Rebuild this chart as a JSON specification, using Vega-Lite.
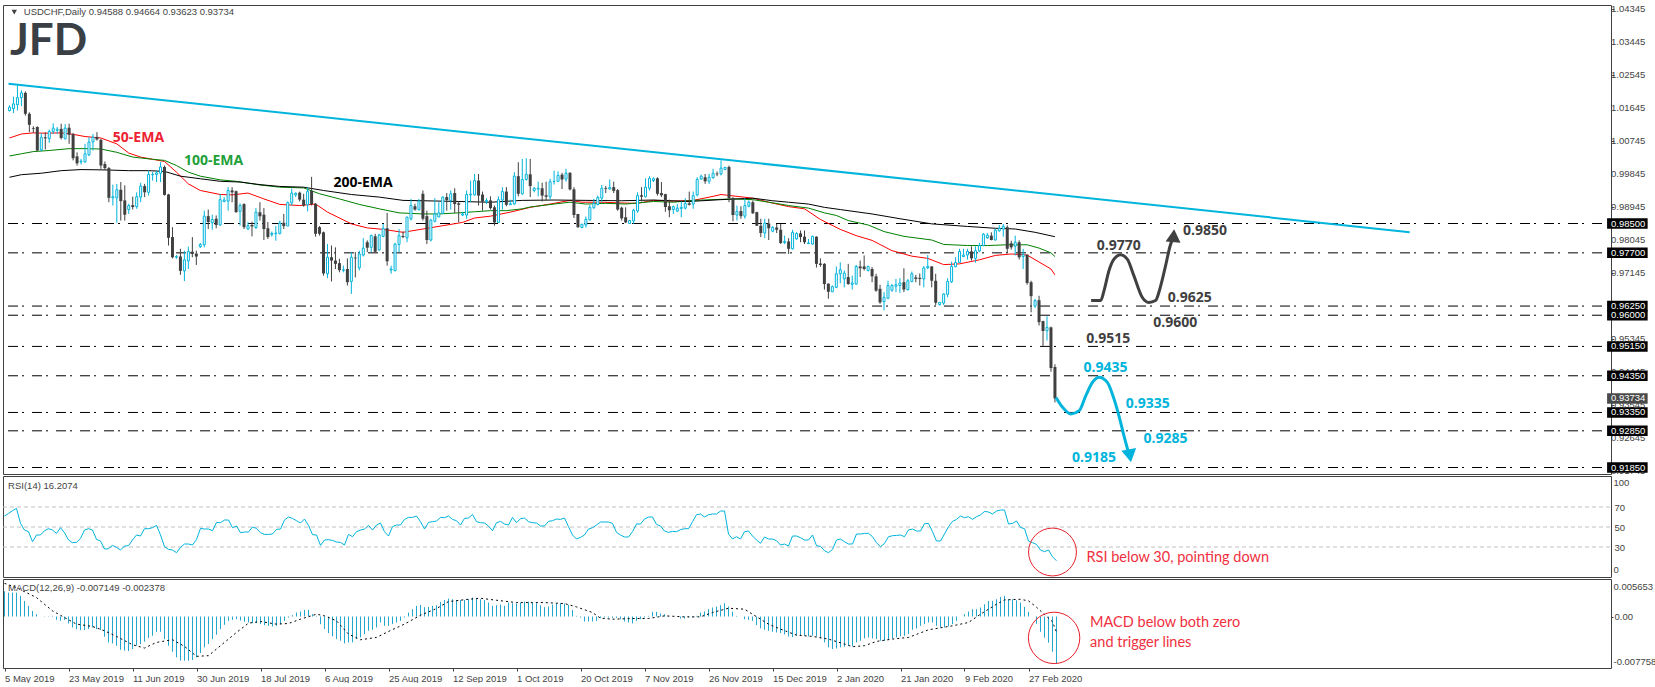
{
"$schema":"https://vega.github.io/schema/vega-lite/v6.json",
"background":"white",
"padding":{"left":2,"top":3,"right":0,"bottom":0},
"spacing":2,
"bounds":"flush",
"config":{"view":{"stroke":"#404040","strokeWidth":1},"axis":{"grid":false,"domain":false,"labelFont":"Liberation Sans","labelFontSize":9.5,"labelColor":"#444444","tickColor":"#444444"},"text":{"font":"Liberation Sans"}},
"datasets":{
"bars":[
{"i":0,"o":1.0158,"h":1.0172,"l":1.0155,"c":1.0167},{"i":1,"o":1.0163,"h":1.0196,"l":1.0151,"c":1.0176},{"i":2,"o":1.0174,"h":1.0228,"l":1.0158,"c":1.0193},{"i":3,"o":1.0193,"h":1.0213,"l":1.0170,"c":1.0206},{"i":4,"o":1.0206,"h":1.0210,"l":1.0144,"c":1.0149},{"i":5,"o":1.0149,"h":1.0153,"l":1.0099,"c":1.0119},{"i":6,"o":1.0110,"h":1.0115,"l":1.0097,"c":1.0108},{"i":7,"o":1.0113,"h":1.0115,"l":1.0047,"c":1.0049},{"i":8,"o":1.0051,"h":1.0096,"l":1.0047,"c":1.0085},{"i":9,"o":1.0085,"h":1.0099,"l":1.0052,"c":1.0082},
{"i":10,"o":1.0081,"h":1.0106,"l":1.0070,"c":1.0101},{"i":11,"o":1.0101,"h":1.0123,"l":1.0094,"c":1.0110},{"i":12,"o":1.0104,"h":1.0113,"l":1.0094,"c":1.0107},{"i":13,"o":1.0108,"h":1.0122,"l":1.0079,"c":1.0083},{"i":14,"o":1.0081,"h":1.0121,"l":1.0079,"c":1.0110},{"i":15,"o":1.0111,"h":1.0122,"l":1.0067,"c":1.0092},{"i":16,"o":1.0093,"h":1.0097,"l":1.0022,"c":1.0028},{"i":17,"o":1.0033,"h":1.0044,"l":1.0008,"c":1.0014},{"i":18,"o":1.0018,"h":1.0026,"l":1.0011,"c":1.0020},{"i":19,"o":1.0018,"h":1.0067,"l":1.0015,"c":1.0040},
{"i":20,"o":1.0037,"h":1.0085,"l":1.0034,"c":1.0072},{"i":21,"o":1.0072,"h":1.0094,"l":1.0049,"c":1.0085},{"i":22,"o":1.0086,"h":1.0099,"l":1.0076,"c":1.0079},{"i":23,"o":1.0078,"h":1.0081,"l":0.9999,"c":1.0008},{"i":24,"o":1.0012,"h":1.0019,"l":0.9996,"c":1.0001},{"i":25,"o":1.0001,"h":1.0004,"l":0.9908,"c":0.9920},{"i":26,"o":0.9920,"h":0.9956,"l":0.9899,"c":0.9923},{"i":27,"o":0.9920,"h":0.9958,"l":0.9852,"c":0.9942},{"i":28,"o":0.9942,"h":0.9963,"l":0.9858,"c":0.9911},{"i":29,"o":0.9913,"h":0.9954,"l":0.9858,"c":0.9874},
{"i":30,"o":0.9888,"h":0.9904,"l":0.9876,"c":0.9899},{"i":31,"o":0.9900,"h":0.9923,"l":0.9888,"c":0.9895},{"i":32,"o":0.9896,"h":0.9935,"l":0.9890,"c":0.9923},{"i":33,"o":0.9922,"h":0.9961,"l":0.9908,"c":0.9952},{"i":34,"o":0.9952,"h":0.9958,"l":0.9922,"c":0.9935},{"i":35,"o":0.9935,"h":0.9994,"l":0.9926,"c":0.9984},{"i":36,"o":0.9983,"h":0.9990,"l":0.9967,"c":0.9984},{"i":37,"o":0.9984,"h":0.9994,"l":0.9963,"c":0.9988},{"i":38,"o":0.9987,"h":1.0017,"l":0.9963,"c":1.0004},{"i":39,"o":1.0004,"h":1.0008,"l":0.9926,"c":0.9928},
{"i":40,"o":0.9929,"h":0.9931,"l":0.9790,"c":0.9811},{"i":41,"o":0.9813,"h":0.9840,"l":0.9755,"c":0.9758},{"i":42,"o":0.9758,"h":0.9764,"l":0.9754,"c":0.9760},{"i":43,"o":0.9760,"h":0.9781,"l":0.9710,"c":0.9721},{"i":44,"o":0.9721,"h":0.9776,"l":0.9693,"c":0.9751},{"i":45,"o":0.9748,"h":0.9787,"l":0.9726,"c":0.9774},{"i":46,"o":0.9773,"h":0.9813,"l":0.9758,"c":0.9767},{"i":47,"o":0.9768,"h":0.9776,"l":0.9737,"c":0.9760},{"i":48,"o":0.9787,"h":0.9797,"l":0.9783,"c":0.9793},{"i":49,"o":0.9792,"h":0.9885,"l":0.9785,"c":0.9870},
{"i":50,"o":0.9870,"h":0.9888,"l":0.9835,"c":0.9854},{"i":51,"o":0.9852,"h":0.9874,"l":0.9833,"c":0.9861},{"i":52,"o":0.9863,"h":0.9872,"l":0.9837,"c":0.9846},{"i":53,"o":0.9846,"h":0.9931,"l":0.9844,"c":0.9915},{"i":54,"o":0.9910,"h":0.9922,"l":0.9908,"c":0.9914},{"i":55,"o":0.9911,"h":0.9949,"l":0.9885,"c":0.9940},{"i":56,"o":0.9940,"h":0.9949,"l":0.9908,"c":0.9935},{"i":57,"o":0.9938,"h":0.9940,"l":0.9879,"c":0.9881},{"i":58,"o":0.9883,"h":0.9905,"l":0.9844,"c":0.9899},{"i":59,"o":0.9903,"h":0.9905,"l":0.9835,"c":0.9840},
{"i":60,"o":0.9835,"h":0.9854,"l":0.9833,"c":0.9844},{"i":61,"o":0.9846,"h":0.9855,"l":0.9815,"c":0.9842},{"i":62,"o":0.9839,"h":0.9892,"l":0.9835,"c":0.9881},{"i":63,"o":0.9881,"h":0.9908,"l":0.9858,"c":0.9870},{"i":64,"o":0.9874,"h":0.9892,"l":0.9805,"c":0.9835},{"i":65,"o":0.9837,"h":0.9854,"l":0.9808,"c":0.9813},{"i":66,"o":0.9820,"h":0.9828,"l":0.9814,"c":0.9823},{"i":67,"o":0.9822,"h":0.9843,"l":0.9803,"c":0.9824},{"i":68,"o":0.9823,"h":0.9858,"l":0.9820,"c":0.9851},{"i":69,"o":0.9852,"h":0.9876,"l":0.9835,"c":0.9843},
{"i":70,"o":0.9843,"h":0.9910,"l":0.9843,"c":0.9907},{"i":71,"o":0.9906,"h":0.9945,"l":0.9899,"c":0.9933},{"i":72,"o":0.9928,"h":0.9935,"l":0.9922,"c":0.9932},{"i":73,"o":0.9934,"h":0.9937,"l":0.9910,"c":0.9915},{"i":74,"o":0.9915,"h":0.9931,"l":0.9896,"c":0.9899},{"i":75,"o":0.9901,"h":0.9949,"l":0.9883,"c":0.9937},{"i":76,"o":0.9939,"h":0.9977,"l":0.9899,"c":0.9903},{"i":77,"o":0.9904,"h":0.9905,"l":0.9814,"c":0.9822},{"i":78,"o":0.9840,"h":0.9843,"l":0.9817,"c":0.9822},{"i":79,"o":0.9826,"h":0.9828,"l":0.9708,"c":0.9714},
{"i":80,"o":0.9713,"h":0.9794,"l":0.9701,"c":0.9758},{"i":81,"o":0.9758,"h":0.9790,"l":0.9692,"c":0.9749},{"i":82,"o":0.9749,"h":0.9785,"l":0.9726,"c":0.9740},{"i":83,"o":0.9742,"h":0.9754,"l":0.9717,"c":0.9723},{"i":84,"o":0.9722,"h":0.9735,"l":0.9717,"c":0.9724},{"i":85,"o":0.9726,"h":0.9755,"l":0.9681,"c":0.9690},{"i":86,"o":0.9692,"h":0.9772,"l":0.9658,"c":0.9758},{"i":87,"o":0.9757,"h":0.9772,"l":0.9703,"c":0.9755},{"i":88,"o":0.9729,"h":0.9776,"l":0.9722,"c":0.9767},{"i":89,"o":0.9764,"h":0.9810,"l":0.9760,"c":0.9783},
{"i":90,"o":0.9799,"h":0.9804,"l":0.9772,"c":0.9784},{"i":91,"o":0.9785,"h":0.9820,"l":0.9772,"c":0.9817},{"i":92,"o":0.9815,"h":0.9822,"l":0.9772,"c":0.9773},{"i":93,"o":0.9778,"h":0.9822,"l":0.9776,"c":0.9819},{"i":94,"o":0.9815,"h":0.9849,"l":0.9813,"c":0.9837},{"i":95,"o":0.9837,"h":0.9879,"l":0.9735,"c":0.9747},{"i":96,"o":0.9723,"h":0.9735,"l":0.9713,"c":0.9726},{"i":97,"o":0.9722,"h":0.9797,"l":0.9719,"c":0.9794},{"i":98,"o":0.9793,"h":0.9835,"l":0.9772,"c":0.9817},{"i":99,"o":0.9816,"h":0.9828,"l":0.9810,"c":0.9813},
{"i":100,"o":0.9811,"h":0.9869,"l":0.9799,"c":0.9867},{"i":101,"o":0.9863,"h":0.9917,"l":0.9858,"c":0.9899},{"i":102,"o":0.9897,"h":0.9904,"l":0.9885,"c":0.9888},{"i":103,"o":0.9888,"h":0.9917,"l":0.9885,"c":0.9911},{"i":104,"o":0.9931,"h":0.9940,"l":0.9858,"c":0.9863},{"i":105,"o":0.9870,"h":0.9885,"l":0.9794,"c":0.9805},{"i":106,"o":0.9805,"h":0.9863,"l":0.9801,"c":0.9859},{"i":107,"o":0.9856,"h":0.9919,"l":0.9853,"c":0.9876},{"i":108,"o":0.9868,"h":0.9908,"l":0.9867,"c":0.9879},{"i":109,"o":0.9878,"h":0.9924,"l":0.9876,"c":0.9922},
{"i":110,"o":0.9922,"h":0.9933,"l":0.9885,"c":0.9914},{"i":111,"o":0.9913,"h":0.9940,"l":0.9888,"c":0.9931},{"i":112,"o":0.9933,"h":0.9946,"l":0.9879,"c":0.9903},{"i":113,"o":0.9905,"h":0.9910,"l":0.9853,"c":0.9901},{"i":114,"o":0.9873,"h":0.9882,"l":0.9870,"c":0.9876},{"i":115,"o":0.9873,"h":0.9940,"l":0.9863,"c":0.9929},{"i":116,"o":0.9928,"h":0.9967,"l":0.9908,"c":0.9930},{"i":117,"o":0.9928,"h":0.9985,"l":0.9926,"c":0.9967},{"i":118,"o":0.9967,"h":0.9985,"l":0.9899,"c":0.9926},{"i":119,"o":0.9929,"h":0.9937,"l":0.9885,"c":0.9910},
{"i":120,"o":0.9910,"h":0.9919,"l":0.9903,"c":0.9913},{"i":121,"o":0.9913,"h":0.9924,"l":0.9888,"c":0.9892},{"i":122,"o":0.9894,"h":0.9899,"l":0.9844,"c":0.9853},{"i":123,"o":0.9853,"h":0.9924,"l":0.9852,"c":0.9915},{"i":124,"o":0.9914,"h":0.9949,"l":0.9888,"c":0.9937},{"i":125,"o":0.9937,"h":0.9949,"l":0.9897,"c":0.9901},{"i":126,"o":0.9901,"h":0.9915,"l":0.9901,"c":0.9904},{"i":127,"o":0.9903,"h":0.9990,"l":0.9901,"c":0.9979},{"i":128,"o":0.9979,"h":1.0017,"l":0.9924,"c":0.9931},{"i":129,"o":0.9931,"h":1.0026,"l":0.9928,"c":0.9970},
{"i":130,"o":0.9970,"h":1.0028,"l":0.9967,"c":0.9984},{"i":131,"o":0.9984,"h":1.0026,"l":0.9922,"c":0.9952},{"i":132,"o":0.9940,"h":0.9949,"l":0.9935,"c":0.9946},{"i":133,"o":0.9944,"h":0.9964,"l":0.9924,"c":0.9946},{"i":134,"o":0.9946,"h":0.9961,"l":0.9910,"c":0.9926},{"i":135,"o":0.9927,"h":0.9964,"l":0.9913,"c":0.9923},{"i":136,"o":0.9923,"h":0.9972,"l":0.9915,"c":0.9964},{"i":137,"o":0.9964,"h":0.9994,"l":0.9956,"c":0.9965},{"i":138,"o":0.9965,"h":0.9992,"l":0.9963,"c":0.9981},{"i":139,"o":0.9983,"h":0.9988,"l":0.9944,"c":0.9970},
{"i":140,"o":0.9971,"h":0.9999,"l":0.9964,"c":0.9987},{"i":141,"o":0.9988,"h":0.9990,"l":0.9940,"c":0.9943},{"i":142,"o":0.9943,"h":0.9949,"l":0.9865,"c":0.9873},{"i":143,"o":0.9876,"h":0.9876,"l":0.9838,"c":0.9840},{"i":144,"o":0.9839,"h":0.9849,"l":0.9837,"c":0.9848},{"i":145,"o":0.9846,"h":0.9869,"l":0.9839,"c":0.9861},{"i":146,"o":0.9860,"h":0.9901,"l":0.9858,"c":0.9894},{"i":147,"o":0.9893,"h":0.9917,"l":0.9890,"c":0.9905},{"i":148,"o":0.9902,"h":0.9926,"l":0.9899,"c":0.9921},{"i":149,"o":0.9919,"h":0.9955,"l":0.9908,"c":0.9946},
{"i":150,"o":0.9947,"h":0.9952,"l":0.9933,"c":0.9945},{"i":151,"o":0.9944,"h":0.9970,"l":0.9942,"c":0.9948},{"i":152,"o":0.9949,"h":0.9964,"l":0.9933,"c":0.9939},{"i":153,"o":0.9941,"h":0.9944,"l":0.9885,"c":0.9888},{"i":154,"o":0.9893,"h":0.9896,"l":0.9858,"c":0.9864},{"i":155,"o":0.9867,"h":0.9894,"l":0.9851,"c":0.9853},{"i":156,"o":0.9850,"h":0.9859,"l":0.9849,"c":0.9858},{"i":157,"o":0.9857,"h":0.9890,"l":0.9849,"c":0.9886},{"i":158,"o":0.9884,"h":0.9935,"l":0.9879,"c":0.9926},{"i":159,"o":0.9927,"h":0.9949,"l":0.9910,"c":0.9923},
{"i":160,"o":0.9923,"h":0.9973,"l":0.9921,"c":0.9949},{"i":161,"o":0.9946,"h":0.9979,"l":0.9940,"c":0.9973},{"i":162,"o":0.9967,"h":0.9976,"l":0.9963,"c":0.9972},{"i":163,"o":0.9973,"h":0.9976,"l":0.9926,"c":0.9931},{"i":164,"o":0.9933,"h":0.9963,"l":0.9922,"c":0.9927},{"i":165,"o":0.9930,"h":0.9931,"l":0.9882,"c":0.9895},{"i":166,"o":0.9897,"h":0.9915,"l":0.9867,"c":0.9886},{"i":167,"o":0.9888,"h":0.9899,"l":0.9876,"c":0.9896},{"i":168,"o":0.9884,"h":0.9903,"l":0.9881,"c":0.9892},{"i":169,"o":0.9891,"h":0.9910,"l":0.9867,"c":0.9894},
{"i":170,"o":0.9892,"h":0.9919,"l":0.9888,"c":0.9905},{"i":171,"o":0.9905,"h":0.9937,"l":0.9899,"c":0.9901},{"i":172,"o":0.9903,"h":0.9937,"l":0.9890,"c":0.9926},{"i":173,"o":0.9928,"h":0.9976,"l":0.9924,"c":0.9970},{"i":174,"o":0.9971,"h":0.9983,"l":0.9970,"c":0.9979},{"i":175,"o":0.9976,"h":0.9985,"l":0.9958,"c":0.9965},{"i":176,"o":0.9965,"h":0.9985,"l":0.9958,"c":0.9976},{"i":177,"o":0.9975,"h":0.9999,"l":0.9972,"c":0.9987},{"i":178,"o":0.9986,"h":0.9992,"l":0.9979,"c":0.9984},{"i":179,"o":0.9985,"h":1.0022,"l":0.9981,"c":1.0001},
{"i":180,"o":0.9997,"h":1.0004,"l":0.9996,"c":1.0003},{"i":181,"o":1.0004,"h":1.0008,"l":0.9908,"c":0.9919},{"i":182,"o":0.9919,"h":0.9922,"l":0.9856,"c":0.9873},{"i":183,"o":0.9873,"h":0.9899,"l":0.9858,"c":0.9883},{"i":184,"o":0.9884,"h":0.9897,"l":0.9863,"c":0.9870},{"i":185,"o":0.9870,"h":0.9919,"l":0.9863,"c":0.9899},{"i":186,"o":0.9897,"h":0.9913,"l":0.9894,"c":0.9908},{"i":187,"o":0.9908,"h":0.9913,"l":0.9876,"c":0.9878},{"i":188,"o":0.9881,"h":0.9882,"l":0.9843,"c":0.9844},{"i":189,"o":0.9844,"h":0.9863,"l":0.9813,"c":0.9824},
{"i":190,"o":0.9824,"h":0.9863,"l":0.9810,"c":0.9851},{"i":191,"o":0.9850,"h":0.9863,"l":0.9805,"c":0.9837},{"i":192,"o":0.9829,"h":0.9843,"l":0.9826,"c":0.9839},{"i":193,"o":0.9839,"h":0.9849,"l":0.9824,"c":0.9833},{"i":194,"o":0.9833,"h":0.9849,"l":0.9794,"c":0.9797},{"i":195,"o":0.9798,"h":0.9817,"l":0.9794,"c":0.9801},{"i":196,"o":0.9801,"h":0.9810,"l":0.9767,"c":0.9781},{"i":197,"o":0.9781,"h":0.9833,"l":0.9779,"c":0.9826},{"i":198,"o":0.9808,"h":0.9826,"l":0.9806,"c":0.9823},{"i":199,"o":0.9823,"h":0.9831,"l":0.9799,"c":0.9813},
{"i":200,"o":0.9814,"h":0.9831,"l":0.9794,"c":0.9799},{"i":201,"o":0.9795,"h":0.9808,"l":0.9794,"c":0.9797},{"i":202,"o":0.9794,"h":0.9817,"l":0.9792,"c":0.9815},{"i":203,"o":0.9814,"h":0.9815,"l":0.9730,"c":0.9740},{"i":204,"o":0.9741,"h":0.9755,"l":0.9732,"c":0.9737},{"i":205,"o":0.9740,"h":0.9742,"l":0.9670,"c":0.9685},{"i":206,"o":0.9686,"h":0.9687,"l":0.9645,"c":0.9664},{"i":207,"o":0.9664,"h":0.9681,"l":0.9663,"c":0.9678},{"i":208,"o":0.9676,"h":0.9733,"l":0.9674,"c":0.9713},{"i":209,"o":0.9713,"h":0.9744,"l":0.9687,"c":0.9724},
{"i":210,"o":0.9699,"h":0.9722,"l":0.9676,"c":0.9715},{"i":211,"o":0.9704,"h":0.9740,"l":0.9683,"c":0.9685},{"i":212,"o":0.9684,"h":0.9708,"l":0.9670,"c":0.9688},{"i":213,"o":0.9685,"h":0.9737,"l":0.9683,"c":0.9733},{"i":214,"o":0.9733,"h":0.9749,"l":0.9704,"c":0.9728},{"i":215,"o":0.9733,"h":0.9763,"l":0.9722,"c":0.9726},{"i":216,"o":0.9722,"h":0.9735,"l":0.9719,"c":0.9733},{"i":217,"o":0.9726,"h":0.9731,"l":0.9690,"c":0.9706},{"i":218,"o":0.9706,"h":0.9713,"l":0.9664,"c":0.9667},{"i":219,"o":0.9672,"h":0.9683,"l":0.9631,"c":0.9635},
{"i":220,"o":0.9637,"h":0.9663,"l":0.9613,"c":0.9649},{"i":221,"o":0.9646,"h":0.9694,"l":0.9644,"c":0.9681},{"i":222,"o":0.9668,"h":0.9685,"l":0.9664,"c":0.9681},{"i":223,"o":0.9679,"h":0.9699,"l":0.9663,"c":0.9683},{"i":224,"o":0.9681,"h":0.9701,"l":0.9661,"c":0.9688},{"i":225,"o":0.9690,"h":0.9728,"l":0.9663,"c":0.9670},{"i":226,"o":0.9670,"h":0.9699,"l":0.9667,"c":0.9694},{"i":227,"o":0.9692,"h":0.9719,"l":0.9690,"c":0.9713},{"i":228,"o":0.9703,"h":0.9710,"l":0.9690,"c":0.9699},{"i":229,"o":0.9702,"h":0.9714,"l":0.9681,"c":0.9699},
{"i":230,"o":0.9699,"h":0.9734,"l":0.9676,"c":0.9729},{"i":231,"o":0.9729,"h":0.9764,"l":0.9726,"c":0.9733},{"i":232,"o":0.9733,"h":0.9734,"l":0.9676,"c":0.9694},{"i":233,"o":0.9694,"h":0.9713,"l":0.9628,"c":0.9634},{"i":234,"o":0.9629,"h":0.9635,"l":0.9626,"c":0.9635},{"i":235,"o":0.9633,"h":0.9660,"l":0.9628,"c":0.9658},{"i":236,"o":0.9657,"h":0.9701,"l":0.9649,"c":0.9692},{"i":237,"o":0.9691,"h":0.9746,"l":0.9688,"c":0.9733},{"i":238,"o":0.9732,"h":0.9758,"l":0.9731,"c":0.9744},{"i":239,"o":0.9744,"h":0.9781,"l":0.9743,"c":0.9774},
{"i":240,"o":0.9760,"h":0.9781,"l":0.9758,"c":0.9764},{"i":241,"o":0.9764,"h":0.9781,"l":0.9752,"c":0.9774},{"i":242,"o":0.9774,"h":0.9788,"l":0.9749,"c":0.9755},{"i":243,"o":0.9755,"h":0.9788,"l":0.9743,"c":0.9776},{"i":244,"o":0.9775,"h":0.9797,"l":0.9772,"c":0.9790},{"i":245,"o":0.9790,"h":0.9824,"l":0.9788,"c":0.9821},{"i":246,"o":0.9811,"h":0.9824,"l":0.9808,"c":0.9818},{"i":247,"o":0.9817,"h":0.9826,"l":0.9804,"c":0.9805},{"i":248,"o":0.9805,"h":0.9835,"l":0.9804,"c":0.9832},{"i":249,"o":0.9830,"h":0.9846,"l":0.9828,"c":0.9837},
{"i":250,"o":0.9835,"h":0.9849,"l":0.9814,"c":0.9842},{"i":251,"o":0.9840,"h":0.9845,"l":0.9770,"c":0.9781},{"i":252,"o":0.9796,"h":0.9803,"l":0.9779,"c":0.9785},{"i":253,"o":0.9788,"h":0.9817,"l":0.9763,"c":0.9799},{"i":254,"o":0.9799,"h":0.9804,"l":0.9752,"c":0.9758},{"i":255,"o":0.9760,"h":0.9781,"l":0.9726,"c":0.9765},{"i":256,"o":0.9765,"h":0.9766,"l":0.9683,"c":0.9688},{"i":257,"o":0.9690,"h":0.9694,"l":0.9608,"c":0.9652},{"i":258,"o":0.9625,"h":0.9644,"l":0.9620,"c":0.9640},{"i":259,"o":0.9641,"h":0.9653,"l":0.9572,"c":0.9581},
{"i":260,"o":0.9584,"h":0.9585,"l":0.9515,"c":0.9557},{"i":261,"o":0.9558,"h":0.9597,"l":0.9531,"c":0.9567},{"i":262,"o":0.9567,"h":0.9569,"l":0.9446,"c":0.9456},{"i":263,"o":0.94588,"h":0.94664,"l":0.93623,"c":0.93734}
],
"ema":[
{"i":0,"p":1.0083,"s":"50"},{"i":3,"p":1.0094,"s":"50"},{"i":6,"p":1.0097,"s":"50"},{"i":9,"p":1.0096,"s":"50"},{"i":13,"p":1.0097,"s":"50"},{"i":16,"p":1.0093,"s":"50"},{"i":19,"p":1.0087,"s":"50"},{"i":23,"p":1.0083,"s":"50"},{"i":27,"p":1.0067,"s":"50"},{"i":30,"p":1.0042,"s":"50"},{"i":33,"p":1.0031,"s":"50"},{"i":36,"p":1.0025,"s":"50"},{"i":39,"p":1.0019,"s":"50"},{"i":42,"p":0.9990,"s":"50"},{"i":45,"p":0.9958,"s":"50"},{"i":48,"p":0.9940,"s":"50"},{"i":53,"p":0.9929,"s":"50"},{"i":56,"p":0.9928,"s":"50"},{"i":60,"p":0.9933,"s":"50"},{"i":64,"p":0.9917,"s":"50"},{"i":68,"p":0.9902,"s":"50"},{"i":73,"p":0.9899,"s":"50"},{"i":77,"p":0.9903,"s":"50"},{"i":80,"p":0.9881,"s":"50"},{"i":86,"p":0.9849,"s":"50"},{"i":90,"p":0.9838,"s":"50"},{"i":94,"p":0.9834,"s":"50"},{"i":99,"p":0.9826,"s":"50"},{"i":104,"p":0.9835,"s":"50"},{"i":109,"p":0.9844,"s":"50"},{"i":114,"p":0.9853,"s":"50"},{"i":117,"p":0.9865,"s":"50"},{"i":121,"p":0.9870,"s":"50"},{"i":126,"p":0.9881,"s":"50"},{"i":131,"p":0.9894,"s":"50"},{"i":136,"p":0.9903,"s":"50"},{"i":141,"p":0.9913,"s":"50"},{"i":144,"p":0.9908,"s":"50"},{"i":149,"p":0.9908,"s":"50"},{"i":154,"p":0.9906,"s":"50"},{"i":158,"p":0.9905,"s":"50"},{"i":162,"p":0.9913,"s":"50"},{"i":167,"p":0.9911,"s":"50"},{"i":172,"p":0.9913,"s":"50"},{"i":177,"p":0.9924,"s":"50"},{"i":179,"p":0.9929,"s":"50"},{"i":183,"p":0.9924,"s":"50"},{"i":187,"p":0.9919,"s":"50"},{"i":191,"p":0.9908,"s":"50"},{"i":196,"p":0.9896,"s":"50"},{"i":200,"p":0.9890,"s":"50"},{"i":204,"p":0.9861,"s":"50"},{"i":209,"p":0.9834,"s":"50"},{"i":213,"p":0.9817,"s":"50"},{"i":217,"p":0.9804,"s":"50"},{"i":222,"p":0.9776,"s":"50"},{"i":227,"p":0.9761,"s":"50"},{"i":231,"p":0.9755,"s":"50"},{"i":235,"p":0.9738,"s":"50"},{"i":239,"p":0.9740,"s":"50"},{"i":244,"p":0.9751,"s":"50"},{"i":248,"p":0.9763,"s":"50"},{"i":252,"p":0.9767,"s":"50"},{"i":256,"p":0.9764,"s":"50"},{"i":259,"p":0.9745,"s":"50"},{"i":262,"p":0.9726,"s":"50"},{"i":263,"p":0.9710,"s":"50"},
{"i":0,"p":1.0034,"s":"100"},{"i":3,"p":1.0040,"s":"100"},{"i":6,"p":1.0046,"s":"100"},{"i":10,"p":1.0049,"s":"100"},{"i":15,"p":1.0054,"s":"100"},{"i":19,"p":1.0054,"s":"100"},{"i":23,"p":1.0053,"s":"100"},{"i":27,"p":1.0044,"s":"100"},{"i":31,"p":1.0031,"s":"100"},{"i":36,"p":1.0025,"s":"100"},{"i":39,"p":1.0022,"s":"100"},{"i":42,"p":1.0008,"s":"100"},{"i":45,"p":0.9990,"s":"100"},{"i":48,"p":0.9979,"s":"100"},{"i":53,"p":0.9969,"s":"100"},{"i":57,"p":0.9965,"s":"100"},{"i":63,"p":0.9955,"s":"100"},{"i":68,"p":0.9949,"s":"100"},{"i":74,"p":0.9947,"s":"100"},{"i":78,"p":0.9931,"s":"100"},{"i":83,"p":0.9917,"s":"100"},{"i":88,"p":0.9902,"s":"100"},{"i":93,"p":0.9890,"s":"100"},{"i":98,"p":0.9879,"s":"100"},{"i":104,"p":0.9876,"s":"100"},{"i":108,"p":0.9876,"s":"100"},{"i":113,"p":0.9879,"s":"100"},{"i":117,"p":0.9882,"s":"100"},{"i":121,"p":0.9885,"s":"100"},{"i":125,"p":0.9885,"s":"100"},{"i":129,"p":0.9890,"s":"100"},{"i":131,"p":0.9895,"s":"100"},{"i":137,"p":0.9903,"s":"100"},{"i":141,"p":0.9908,"s":"100"},{"i":145,"p":0.9903,"s":"100"},{"i":150,"p":0.9905,"s":"100"},{"i":155,"p":0.9903,"s":"100"},{"i":162,"p":0.9910,"s":"100"},{"i":167,"p":0.9908,"s":"100"},{"i":172,"p":0.9913,"s":"100"},{"i":177,"p":0.9915,"s":"100"},{"i":182,"p":0.9917,"s":"100"},{"i":187,"p":0.9915,"s":"100"},{"i":191,"p":0.9908,"s":"100"},{"i":196,"p":0.9899,"s":"100"},{"i":201,"p":0.9892,"s":"100"},{"i":205,"p":0.9879,"s":"100"},{"i":208,"p":0.9872,"s":"100"},{"i":211,"p":0.9858,"s":"100"},{"i":216,"p":0.9846,"s":"100"},{"i":220,"p":0.9828,"s":"100"},{"i":225,"p":0.9815,"s":"100"},{"i":232,"p":0.9805,"s":"100"},{"i":235,"p":0.9793,"s":"100"},{"i":241,"p":0.9790,"s":"100"},{"i":246,"p":0.9790,"s":"100"},{"i":251,"p":0.9792,"s":"100"},{"i":256,"p":0.9792,"s":"100"},{"i":259,"p":0.9783,"s":"100"},{"i":262,"p":0.9770,"s":"100"},{"i":263,"p":0.9760,"s":"100"},
{"i":0,"p":0.9976,"s":"200"},{"i":3,"p":0.9983,"s":"200"},{"i":8,"p":0.9987,"s":"200"},{"i":13,"p":0.9994,"s":"200"},{"i":18,"p":0.9997,"s":"200"},{"i":24,"p":0.9996,"s":"200"},{"i":30,"p":0.9994,"s":"200"},{"i":35,"p":0.9994,"s":"200"},{"i":39,"p":0.9992,"s":"200"},{"i":43,"p":0.9979,"s":"200"},{"i":48,"p":0.9972,"s":"200"},{"i":53,"p":0.9965,"s":"200"},{"i":58,"p":0.9963,"s":"200"},{"i":63,"p":0.9956,"s":"200"},{"i":68,"p":0.9951,"s":"200"},{"i":74,"p":0.9949,"s":"200"},{"i":79,"p":0.9940,"s":"200"},{"i":86,"p":0.9929,"s":"200"},{"i":93,"p":0.9922,"s":"200"},{"i":99,"p":0.9913,"s":"200"},{"i":104,"p":0.9912,"s":"200"},{"i":113,"p":0.9910,"s":"200"},{"i":121,"p":0.9908,"s":"200"},{"i":129,"p":0.9913,"s":"200"},{"i":137,"p":0.9914,"s":"200"},{"i":145,"p":0.9913,"s":"200"},{"i":154,"p":0.9912,"s":"200"},{"i":162,"p":0.9914,"s":"200"},{"i":171,"p":0.9910,"s":"200"},{"i":179,"p":0.9915,"s":"200"},{"i":187,"p":0.9919,"s":"200"},{"i":192,"p":0.9912,"s":"200"},{"i":196,"p":0.9908,"s":"200"},{"i":201,"p":0.9903,"s":"200"},{"i":205,"p":0.9894,"s":"200"},{"i":209,"p":0.9888,"s":"200"},{"i":217,"p":0.9876,"s":"200"},{"i":224,"p":0.9863,"s":"200"},{"i":232,"p":0.9849,"s":"200"},{"i":241,"p":0.9842,"s":"200"},{"i":248,"p":0.9837,"s":"200"},{"i":253,"p":0.9835,"s":"200"},{"i":258,"p":0.9826,"s":"200"},{"i":263,"p":0.9814,"s":"200"}
],
"levels":[{"p":0.985},{"p":0.977},{"p":0.9625},{"p":0.96},{"p":0.9515},{"p":0.9435},{"p":0.9335},{"p":0.9285},{"p":0.9185}],
"priceTicks":[{"p":1.04345},{"p":1.03445},{"p":1.02545},{"p":1.01645},{"p":1.00745},{"p":0.99845},{"p":0.98945},{"p":0.98045},{"p":0.97145},{"p":0.96245},{"p":0.95345},{"p":0.94445},{"p":0.93545},{"p":0.92645},{"p":0.91745}],
"osc":[
{"i":0,"rsi":61.0,"m":0.0038},{"i":1,"rsi":63.6,"m":0.0036},{"i":2,"rsi":66.3,"m":0.0036},{"i":3,"rsi":68.6,"m":0.0036},{"i":4,"rsi":53.6,"m":0.0031},{"i":5,"rsi":47.0,"m":0.00235},{"i":6,"rsi":45.3,"m":0.0016},{"i":7,"rsi":35.3,"m":0.00085},{"i":8,"rsi":42.0,"m":0.00035},{"i":9,"rsi":42.0,"m":0},
{"i":10,"rsi":46.3,"m":0.00005},{"i":11,"rsi":48.3,"m":0.00005},{"i":12,"rsi":47.0,"m":0.0001},{"i":13,"rsi":43.6,"m":-0.0005},{"i":14,"rsi":49.3,"m":-0.00065},{"i":15,"rsi":44.3,"m":-0.0005},{"i":16,"rsi":37.0,"m":-0.00105},{"i":17,"rsi":34.3,"m":-0.00165},{"i":18,"rsi":34.6,"m":-0.0019},{"i":19,"rsi":38.6,"m":-0.00205},
{"i":20,"rsi":47.0,"m":-0.00205},{"i":21,"rsi":48.3,"m":-0.0019},{"i":22,"rsi":47.0,"m":-0.00165},{"i":23,"rsi":37.6,"m":-0.0019},{"i":24,"rsi":36.0,"m":-0.00205},{"i":25,"rsi":28.0,"m":-0.00305},{"i":26,"rsi":28.3,"m":-0.0039},{"i":27,"rsi":31.6,"m":-0.00405},{"i":28,"rsi":29.6,"m":-0.0044},{"i":29,"rsi":27.0,"m":-0.005},
{"i":30,"rsi":31.0,"m":-0.00515},{"i":31,"rsi":31.3,"m":-0.0052},{"i":32,"rsi":37.0,"m":-0.0049},{"i":33,"rsi":42.0,"m":-0.0044},{"i":34,"rsi":41.0,"m":-0.00415},{"i":35,"rsi":48.3,"m":-0.0038},{"i":36,"rsi":48.3,"m":-0.00325},{"i":37,"rsi":49.3,"m":-0.0029},{"i":38,"rsi":51.6,"m":-0.0023},{"i":39,"rsi":42.0,"m":-0.0023},
{"i":40,"rsi":30.3,"m":-0.0034},{"i":41,"rsi":27.6,"m":-0.0044},{"i":42,"rsi":27.0,"m":-0.0053},{"i":43,"rsi":24.3,"m":-0.00615},{"i":44,"rsi":29.6,"m":-0.00665},{"i":45,"rsi":33.0,"m":-0.00665},{"i":46,"rsi":33.0,"m":-0.00665},{"i":47,"rsi":32.0,"m":-0.00655},{"i":48,"rsi":37.6,"m":-0.00615},{"i":49,"rsi":48.6,"m":-0.0055},
{"i":50,"rsi":48.0,"m":-0.00465},{"i":51,"rsi":48.0,"m":-0.00415},{"i":52,"rsi":46.3,"m":-0.0034},{"i":53,"rsi":54.6,"m":-0.00275},{"i":54,"rsi":54.3,"m":-0.0019},{"i":55,"rsi":57.0,"m":-0.00125},{"i":56,"rsi":57.0,"m":-0.00065},{"i":57,"rsi":49.3,"m":-0.0005},{"i":58,"rsi":51.0,"m":-0.0004},{"i":59,"rsi":44.3,"m":-0.0006},
{"i":60,"rsi":45.0,"m":-0.0008},{"i":61,"rsi":45.0,"m":-0.0009},{"i":62,"rsi":50.0,"m":-0.001},{"i":63,"rsi":48.6,"m":-0.001},{"i":64,"rsi":44.3,"m":-0.00115},{"i":65,"rsi":42.6,"m":-0.0013},{"i":66,"rsi":42.6,"m":-0.0014},{"i":67,"rsi":43.0,"m":-0.0015},{"i":68,"rsi":47.6,"m":-0.0014},{"i":69,"rsi":48.0,"m":-0.00115},
{"i":70,"rsi":57.0,"m":-0.00065},{"i":71,"rsi":60.0,"m":-0.00015},{"i":72,"rsi":58.6,"m":0.0002},{"i":73,"rsi":56.3,"m":0.0006},{"i":74,"rsi":54.0,"m":0.00075},{"i":75,"rsi":58.0,"m":0.001},{"i":76,"rsi":51.6,"m":0.001},{"i":77,"rsi":42.3,"m":0.00035},{"i":78,"rsi":42.0,"m":0.0001},{"i":79,"rsi":31.6,"m":-0.00115},
{"i":80,"rsi":37.0,"m":-0.0019},{"i":81,"rsi":37.3,"m":-0.0025},{"i":82,"rsi":36.6,"m":-0.003},{"i":83,"rsi":35.0,"m":-0.0034},{"i":84,"rsi":34.6,"m":-0.00365},{"i":85,"rsi":32.0,"m":-0.00405},{"i":86,"rsi":42.6,"m":-0.0039},{"i":87,"rsi":40.3,"m":-0.0039},{"i":88,"rsi":45.3,"m":-0.0034},{"i":89,"rsi":47.0,"m":-0.00315},
{"i":90,"rsi":48.0,"m":-0.00265},{"i":91,"rsi":51.6,"m":-0.00215},{"i":92,"rsi":47.0,"m":-0.002},{"i":93,"rsi":52.0,"m":-0.00165},{"i":94,"rsi":54.0,"m":-0.0009},{"i":95,"rsi":45.3,"m":-0.0014},{"i":96,"rsi":41.0,"m":-0.0014},{"i":97,"rsi":50.3,"m":-0.00115},{"i":98,"rsi":52.0,"m":-0.0009},{"i":99,"rsi":52.0,"m":-0.00065},
{"i":100,"rsi":57.6,"m":-0.00015},{"i":101,"rsi":59.6,"m":0.0006},{"i":102,"rsi":59.6,"m":0.0011},{"i":103,"rsi":61.0,"m":0.0016},{"i":104,"rsi":55.3,"m":0.00175},{"i":105,"rsi":48.0,"m":0.0014},{"i":106,"rsi":54.6,"m":0.00145},{"i":107,"rsi":55.3,"m":0.0016},{"i":108,"rsi":56.0,"m":0.0017},{"i":109,"rsi":59.6,"m":0.0022},
{"i":110,"rsi":59.3,"m":0.0025},{"i":111,"rsi":61.0,"m":0.0027},{"i":112,"rsi":57.6,"m":0.0026},{"i":113,"rsi":56.3,"m":0.0025},{"i":114,"rsi":52.0,"m":0.0025},{"i":115,"rsi":58.6,"m":0.0025},{"i":116,"rsi":59.0,"m":0.0026},{"i":117,"rsi":62.6,"m":0.00285},{"i":118,"rsi":55.3,"m":0.0027},{"i":119,"rsi":54.3,"m":0.0026},
{"i":120,"rsi":54.0,"m":0.00245},{"i":121,"rsi":51.0,"m":0.0021},{"i":122,"rsi":46.3,"m":0.0016},{"i":123,"rsi":54.3,"m":0.0017},{"i":124,"rsi":55.6,"m":0.0018},{"i":125,"rsi":53.0,"m":0.0016},{"i":126,"rsi":52.0,"m":0.0021},{"i":127,"rsi":59.6,"m":0.002},{"i":128,"rsi":54.3,"m":0.00195},{"i":129,"rsi":58.3,"m":0.0021},
{"i":130,"rsi":59.0,"m":0.00225},{"i":131,"rsi":55.3,"m":0.00225},{"i":132,"rsi":54.3,"m":0.0021},{"i":133,"rsi":54.0,"m":0.002},{"i":134,"rsi":51.0,"m":0.0017},{"i":135,"rsi":51.0,"m":0.0014},{"i":136,"rsi":55.6,"m":0.0015},{"i":137,"rsi":56.3,"m":0.0018},{"i":138,"rsi":58.0,"m":0.00195},{"i":139,"rsi":57.6,"m":0.002},
{"i":140,"rsi":59.0,"m":0.00195},{"i":141,"rsi":50.3,"m":0.00175},{"i":142,"rsi":42.0,"m":0.001},{"i":143,"rsi":38.0,"m":0.0001},{"i":144,"rsi":39.6,"m":-0.00015},{"i":145,"rsi":42.0,"m":-0.00075},{"i":146,"rsi":48.0,"m":-0.00075},{"i":147,"rsi":49.3,"m":-0.00075},{"i":148,"rsi":52.0,"m":-0.00065},{"i":149,"rsi":55.0,"m":-0.00025},
{"i":150,"rsi":55.0,"m":-0.00015},{"i":151,"rsi":55.0,"m":-0.00015},{"i":152,"rsi":53.6,"m":-0.0002},{"i":153,"rsi":44.6,"m":-0.0002},{"i":154,"rsi":42.0,"m":-0.0004},{"i":155,"rsi":40.0,"m":-0.00075},{"i":156,"rsi":40.0,"m":-0.0009},{"i":157,"rsi":45.3,"m":-0.00105},{"i":158,"rsi":53.0,"m":-0.00065},{"i":159,"rsi":53.0,"m":-0.0004},
{"i":160,"rsi":58.0,"m":-0.00015},{"i":161,"rsi":60.0,"m":0.0001},{"i":162,"rsi":60.0,"m":0.0007},{"i":163,"rsi":52.6,"m":0.0007},{"i":164,"rsi":51.0,"m":0.00045},{"i":165,"rsi":46.0,"m":0.00035},{"i":166,"rsi":44.6,"m":0.0001},{"i":167,"rsi":45.6,"m":0},{"i":168,"rsi":45.3,"m":0},{"i":169,"rsi":47.3,"m":-0.0003},
{"i":170,"rsi":48.3,"m":-0.0003},{"i":171,"rsi":48.3,"m":-0.00015},{"i":172,"rsi":55.3,"m":-0.00015},{"i":173,"rsi":62.3,"m":0.0001},{"i":174,"rsi":63.0,"m":0.0006},{"i":175,"rsi":60.0,"m":0.00075},{"i":176,"rsi":62.3,"m":0.0011},{"i":177,"rsi":63.0,"m":0.00135},{"i":178,"rsi":63.0,"m":0.0015},{"i":179,"rsi":66.0,"m":0.0017},
{"i":180,"rsi":66.0,"m":0.002},{"i":181,"rsi":43.0,"m":0.0015},{"i":182,"rsi":38.0,"m":0.00075},{"i":183,"rsi":40.3,"m":0.0001},{"i":184,"rsi":38.0,"m":0},{"i":185,"rsi":45.3,"m":-0.0004},{"i":186,"rsi":46.0,"m":-0.0005},{"i":187,"rsi":41.0,"m":-0.00065},{"i":188,"rsi":37.0,"m":-0.0013},{"i":189,"rsi":33.6,"m":-0.0018},
{"i":190,"rsi":40.0,"m":-0.002},{"i":191,"rsi":38.0,"m":-0.00215},{"i":192,"rsi":38.0,"m":-0.0023},{"i":193,"rsi":36.3,"m":-0.0024},{"i":194,"rsi":32.0,"m":-0.0025},{"i":195,"rsi":33.0,"m":-0.0027},{"i":196,"rsi":31.0,"m":-0.003},{"i":197,"rsi":41.0,"m":-0.0031},{"i":198,"rsi":41.0,"m":-0.0029},{"i":199,"rsi":39.3,"m":-0.0029},
{"i":200,"rsi":37.0,"m":-0.0029},{"i":201,"rsi":37.0,"m":-0.003},{"i":202,"rsi":42.0,"m":-0.0029},{"i":203,"rsi":31.3,"m":-0.003},{"i":204,"rsi":30.6,"m":-0.0033},{"i":205,"rsi":26.3,"m":-0.0039},{"i":206,"rsi":24.3,"m":-0.00465},{"i":207,"rsi":27.6,"m":-0.0049},{"i":208,"rsi":37.0,"m":-0.0048},{"i":209,"rsi":38.0,"m":-0.00465},
{"i":210,"rsi":35.3,"m":-0.00455},{"i":211,"rsi":33.0,"m":-0.0044},{"i":212,"rsi":33.0,"m":-0.0045},{"i":213,"rsi":43.0,"m":-0.0039},{"i":214,"rsi":43.0,"m":-0.00365},{"i":215,"rsi":43.6,"m":-0.0033},{"i":216,"rsi":43.6,"m":-0.00315},{"i":217,"rsi":40.3,"m":-0.0033},{"i":218,"rsi":34.3,"m":-0.0034},{"i":219,"rsi":30.3,"m":-0.00365},
{"i":220,"rsi":33.6,"m":-0.00365},{"i":221,"rsi":40.3,"m":-0.00355},{"i":222,"rsi":41.3,"m":-0.0033},{"i":223,"rsi":41.6,"m":-0.00315},{"i":224,"rsi":42.0,"m":-0.003},{"i":225,"rsi":40.3,"m":-0.0029},{"i":226,"rsi":47.0,"m":-0.00265},{"i":227,"rsi":48.0,"m":-0.002},{"i":228,"rsi":46.0,"m":-0.0018},{"i":229,"rsi":46.0,"m":-0.0014},
{"i":230,"rsi":53.3,"m":-0.00115},{"i":231,"rsi":53.6,"m":-0.0009},{"i":232,"rsi":45.3,"m":-0.0009},{"i":233,"rsi":36.0,"m":-0.0014},{"i":234,"rsi":36.0,"m":-0.00165},{"i":235,"rsi":43.0,"m":-0.00165},{"i":236,"rsi":50.3,"m":-0.0015},{"i":237,"rsi":55.6,"m":-0.00115},{"i":238,"rsi":57.6,"m":-0.00065},{"i":239,"rsi":61.0,"m":0},
{"i":240,"rsi":59.3,"m":0.00035},{"i":241,"rsi":60.3,"m":0.00075},{"i":242,"rsi":57.6,"m":0.0011},{"i":243,"rsi":60.3,"m":0.0011},{"i":244,"rsi":62.0,"m":0.00135},{"i":245,"rsi":65.6,"m":0.00185},{"i":246,"rsi":65.0,"m":0.00235},{"i":247,"rsi":63.0,"m":0.00235},{"i":248,"rsi":66.0,"m":0.0026},{"i":249,"rsi":67.0,"m":0.00295},
{"i":250,"rsi":67.0,"m":0.0031},{"i":251,"rsi":53.0,"m":0.0026},{"i":252,"rsi":53.6,"m":0.0026},{"i":253,"rsi":56.0,"m":0.00245},{"i":254,"rsi":49.6,"m":0.0021},{"i":255,"rsi":48.3,"m":0.00145},{"i":256,"rsi":36.0,"m":0.0007},{"i":257,"rsi":34.3,"m":0},{"i":258,"rsi":32.6,"m":-0.0011},{"i":259,"rsi":27.0,"m":-0.0023},
{"i":260,"rsi":25.3,"m":-0.0032},{"i":261,"rsi":27.0,"m":-0.00395},{"i":262,"rsi":20.3,"m":-0.0053},{"i":263,"rsi":16.2074,"m":-0.007149}
],
"signal":[
{"i":0,"s":0.005},{"i":3,"s":0.00435},{"i":8,"s":0.00285},{"i":12,"s":0.00085},{"i":15,"s":-0.00015},{"i":18,"s":-0.00115},{"i":22,"s":-0.0015},{"i":25,"s":-0.00215},{"i":28,"s":-0.003},{"i":32,"s":-0.00425},{"i":35,"s":-0.00475},{"i":38,"s":-0.0039},{"i":42,"s":-0.0035},{"i":45,"s":-0.0045},{"i":48,"s":-0.006},{"i":51,"s":-0.0059},{"i":54,"s":-0.0044},{"i":58,"s":-0.0024},{"i":61,"s":-0.001},{"i":64,"s":-0.00075},{"i":68,"s":-0.00115},{"i":71,"s":-0.00105},{"i":74,"s":-0.0004},{"i":78,"s":0.00035},{"i":80,"s":0.0001},{"i":83,"s":-0.00065},{"i":86,"s":-0.00265},{"i":89,"s":-0.0035},{"i":93,"s":-0.00315},{"i":96,"s":-0.00225},{"i":100,"s":-0.00115},{"i":104,"s":0.0002},{"i":108,"s":0.0012},{"i":111,"s":0.00225},{"i":116,"s":0.0026},{"i":119,"s":0.00275},{"i":123,"s":0.00245},{"i":128,"s":0.0021},{"i":132,"s":0.0021},{"i":135,"s":0.0021},{"i":140,"s":0.00195},{"i":143,"s":0.00145},{"i":147,"s":0.0006},{"i":149,"s":-0.00025},{"i":152,"s":-0.0004},{"i":157,"s":-0.0003},{"i":161,"s":-0.0003},{"i":165,"s":0.0001},{"i":170,"s":-0.00005},{"i":174,"s":-0.00005},{"i":177,"s":0.0006},{"i":181,"s":0.00125},{"i":185,"s":0.0011},{"i":187,"s":0.00035},{"i":191,"s":-0.00115},{"i":194,"s":-0.0019},{"i":198,"s":-0.0028},{"i":202,"s":-0.003},{"i":206,"s":-0.0034},{"i":210,"s":-0.00415},{"i":212,"s":-0.00455},{"i":215,"s":-0.0044},{"i":218,"s":-0.00375},{"i":222,"s":-0.0034},{"i":226,"s":-0.00315},{"i":231,"s":-0.002},{"i":237,"s":-0.0014},{"i":241,"s":-0.0009},{"i":244,"s":0.00035},{"i":248,"s":0.00185},{"i":250,"s":0.0025},{"i":254,"s":0.0026},{"i":256,"s":0.00235},{"i":258,"s":0.0014},{"i":260,"s":0.0003},{"i":262,"s":-0.0008},{"i":263,"s":-0.002378}
]
},
"vconcat":[
{"width":1608,"height":469,
"layer":[
{"data":{"name":"levels"},"mark":{"type":"rule","color":"black","strokeWidth":1,"strokeDash":[10,4,2,8]},
"encoding":{"x":{"datum":-0.375,"type":"quantitative","axis":null},"x2":{"datum":401.625},
"y":{"field":"p","type":"quantitative","title":null,"scale":{"domain":[0.91673,1.04455],"nice":false,"zero":false},
"axis":{"orient":"right","values":[1.04345,1.03445,1.02545,1.01645,1.00745,0.99845,0.98945,0.98045,0.97145,0.96245,0.95345,0.94445,0.93545,0.92645,0.91745],"labels":false,"tickSize":3}}}},
{"encoding":{"x":{"field":"i","type":"quantitative","scale":{"domain":[-0.375,401.625],"nice":false,"zero":false},"axis":null}},
"layer":[
{"data":{"values":[{"i":-0.25,"p":1.02306},{"i":352.25,"p":0.98263}]},"mark":{"type":"line","color":"#00B4DC","strokeWidth":2},
"encoding":{"y":{"field":"p","type":"quantitative","title":null}}},
{"data":{"name":"ema"},"mark":{"type":"line","strokeWidth":1},
"encoding":{"y":{"field":"p","type":"quantitative","title":null},"detail":{"field":"s"},"color":{"field":"s","type":"nominal","legend":null,"scale":{"domain":["50","100","200"],"range":["#FF0000","#008000","#000000"]}}}},
{"data":{"name":"bars"},"transform":[{"filter":"datum.c>=datum.o"}],"mark":{"type":"rule","color":"#00B4DC","strokeWidth":1},
"encoding":{"y":{"field":"h","type":"quantitative","title":null},"y2":{"field":"l"}}},
{"data":{"name":"bars"},"transform":[{"filter":"datum.c<datum.o"}],"mark":{"type":"rule","color":"#404040","strokeWidth":1},
"encoding":{"y":{"field":"h","type":"quantitative","title":null},"y2":{"field":"l"}}},
{"data":{"name":"bars"},"transform":[{"filter":"datum.c>=datum.o"}],"mark":{"type":"bar","size":2,"fill":"white","stroke":"#00B4DC","strokeWidth":1,"orient":"vertical"},
"encoding":{"y":{"field":"o","type":"quantitative","title":null},"y2":{"field":"c"}}},
{"data":{"name":"bars"},"transform":[{"filter":"datum.c<datum.o"}],"mark":{"type":"bar","size":3,"fill":"#404040","orient":"vertical"},
"encoding":{"y":{"field":"o","type":"quantitative","title":null},"y2":{"field":"c"}}},
{"data":{"values":[{"i":272.1,"p":0.964},{"i":274.5,"p":0.964},{"i":275.35,"p":0.9667},{"i":276.6,"p":0.9722},{"i":277.85,"p":0.9753},{"i":279.5,"p":0.9765},{"i":281.2,"p":0.9753},{"i":282.85,"p":0.9708},{"i":284.95,"p":0.9649},{"i":286.6,"p":0.9635},{"i":288.3,"p":0.964},{"i":289.5,"p":0.9676},{"i":290.75,"p":0.9731},{"i":292,"p":0.979},{"i":292.6,"p":0.9808}]},
"mark":{"type":"line","color":"#404040","strokeWidth":3,"interpolate":"monotone"},"encoding":{"y":{"field":"p","type":"quantitative","title":null}}},
{"data":{"values":[{"i":292.85,"p":0.9817}]},"mark":{"type":"point","shape":"triangle-up","filled":true,"size":225,"angle":5,"color":"#404040","opacity":1},"encoding":{"y":{"field":"p","type":"quantitative","title":null}}},
{"data":{"values":[{"i":263.27,"p":0.9376},{"i":264.93,"p":0.9349},{"i":267.02,"p":0.9331},{"i":269.1,"p":0.934},{"i":270.77,"p":0.9381},{"i":272.43,"p":0.9417},{"i":274.1,"p":0.9431},{"i":276.18,"p":0.9417},{"i":277.85,"p":0.9372},{"i":279.1,"p":0.9326},{"i":280.35,"p":0.9272},{"i":281.6,"p":0.9222}]},
"mark":{"type":"line","color":"#00B4DC","strokeWidth":3,"interpolate":"monotone"},"encoding":{"y":{"field":"p","type":"quantitative","title":null}}},
{"data":{"values":[{"i":281.85,"p":0.9217}]},"mark":{"type":"point","shape":"triangle-down","filled":true,"size":225,"angle":-10,"color":"#00B4DC","opacity":1},"encoding":{"y":{"field":"p","type":"quantitative","title":null}}},
{"data":{"values":[{"i":295.2,"p":0.9829,"t":"0.9850"},{"i":273.5,"p":0.9788,"t":"0.9770"},{"i":291.4,"p":0.9648,"t":"0.9625"},{"i":287.7,"p":0.9578,"t":"0.9600"},{"i":270.9,"p":0.9534,"t":"0.9515"}]},
"mark":{"type":"text","font":"Open Sans","fontWeight":"bold","fontSize":14,"align":"left","baseline":"middle","color":"#404040"},"encoding":{"y":{"field":"p","type":"quantitative","title":null},"text":{"field":"t"}}},
{"data":{"values":[{"i":270.2,"p":0.9457,"t":"0.9435"},{"i":280.8,"p":0.9357,"t":"0.9335"},{"i":285.3,"p":0.9264,"t":"0.9285"},{"i":267.3,"p":0.921,"t":"0.9185"}]},
"mark":{"type":"text","font":"Open Sans","fontWeight":"bold","fontSize":14,"align":"left","baseline":"middle","color":"#00B4DC"},"encoding":{"y":{"field":"p","type":"quantitative","title":null},"text":{"field":"t"}}},
{"data":{"values":[{"i":26,"p":1.0083,"t":"50-EMA"}]},"mark":{"type":"text","font":"Open Sans","fontWeight":"bold","fontSize":14,"align":"left","baseline":"middle","color":"#EE2233"},"encoding":{"y":{"field":"p","type":"quantitative","title":null},"text":{"field":"t"}}},
{"data":{"values":[{"i":43.9,"p":1.002,"t":"100-EMA"}]},"mark":{"type":"text","font":"Open Sans","fontWeight":"bold","fontSize":14,"align":"left","baseline":"middle","color":"#22A03A"},"encoding":{"y":{"field":"p","type":"quantitative","title":null},"text":{"field":"t"}}},
{"data":{"values":[{"i":81.5,"p":0.996,"t":"200-EMA"}]},"mark":{"type":"text","font":"Open Sans","fontWeight":"bold","fontSize":14,"align":"left","baseline":"middle","color":"#000000"},"encoding":{"y":{"field":"p","type":"quantitative","title":null},"text":{"field":"t"}}},
{"data":{"values":[{"i":3.6,"p":1.0426,"t":"USDCHF,Daily  0.94588 0.94664 0.93623 0.93734"}]},
"mark":{"type":"text","fontSize":9.5,"align":"left","baseline":"middle","color":"#444444"},"encoding":{"y":{"field":"p","type":"quantitative","title":null},"text":{"field":"t"}}},
{"data":{"values":[{"i":1.2,"p":1.0426}]},"mark":{"type":"point","shape":"triangle-down","filled":true,"size":30,"color":"#444444","opacity":1},"encoding":{"y":{"field":"p","type":"quantitative","title":null}}},
{"data":{"values":[{"i":0.1,"p":1.0309,"t":"JFD"}]},
"mark":{"type":"text","font":"Lato","fontWeight":"bold","fontSize":44,"align":"left","baseline":"alphabetic","color":"#3A3F45"},"encoding":{"y":{"field":"p","type":"quantitative","title":null},"text":{"field":"t"}}}
]},
{"data":{"name":"priceTicks"},"mark":{"type":"text","fontSize":9.5,"align":"left","baseline":"middle","color":"#444444"},
"encoding":{"x":{"datum":402.9,"type":"quantitative","axis":null},"y":{"field":"p","type":"quantitative","title":null},"text":{"field":"p","type":"quantitative","format":".5f"}}},
{"data":{"name":"levels"},"mark":{"type":"rule","color":"black","strokeWidth":10.5},
"encoding":{"x":{"datum":401.9,"type":"quantitative","axis":null},"x2":{"datum":412.1},"y":{"field":"p","type":"quantitative","title":null}}},
{"data":{"values":[{"p":0.93734}]},"mark":{"type":"rule","color":"#4A4A4A","strokeWidth":10.5},
"encoding":{"x":{"datum":401.9,"type":"quantitative","axis":null},"x2":{"datum":412.1},"y":{"field":"p","type":"quantitative","title":null}}},
{"data":{"values":[{"p":0.985},{"p":0.977},{"p":0.9625},{"p":0.96},{"p":0.9515},{"p":0.9435},{"p":0.93734},{"p":0.9335},{"p":0.9285},{"p":0.9185}]},
"mark":{"type":"text","fontSize":9.5,"align":"left","baseline":"middle","color":"white"},
"encoding":{"x":{"datum":402.9,"type":"quantitative","axis":null},"y":{"field":"p","type":"quantitative","title":null},"text":{"field":"p","type":"quantitative","format":".5f"}}}
]},
{"width":1608,"height":101,
"layer":[
{"data":{"values":[{"v":70},{"v":50},{"v":30}]},"mark":{"type":"rule","color":"#C0C0C0","strokeWidth":1,"strokeDash":[4,3]},
"encoding":{"x":{"datum":-0.375,"type":"quantitative","axis":null},"x2":{"datum":401.625},
"y":{"field":"v","type":"quantitative","title":null,"scale":{"domain":[0,101],"nice":false,"zero":false},
"axis":{"orient":"right","values":[70,50,30],"tickSize":0,"labelPadding":3}}}},
{"encoding":{"x":{"field":"i","type":"quantitative","scale":{"domain":[-0.375,401.625],"nice":false,"zero":false},"axis":null}},
"layer":[
{"data":{"name":"osc"},"mark":{"type":"line","color":"#00B4DC","strokeWidth":1},"encoding":{"y":{"field":"rsi","type":"quantitative","title":null}}},
{"data":{"values":[{"i":262,"v":25}]},"mark":{"type":"point","shape":"circle","size":2290,"stroke":"#E8202A","strokeWidth":1,"fill":null,"opacity":1},"encoding":{"y":{"field":"v","type":"quantitative","title":null}}},
{"data":{"values":[{"i":0.9,"v":91.3,"t":"RSI(14) 16.2074"}]},"mark":{"type":"text","fontSize":9.5,"align":"left","baseline":"middle","color":"#444444"},"encoding":{"y":{"field":"v","type":"quantitative","title":null},"text":{"field":"t"}}},
{"data":{"values":[{"i":270.5,"v":18.6,"t":"RSI below 30, pointing down"}]},"mark":{"type":"text","font":"Lato","fontSize":14.5,"align":"left","baseline":"middle","color":"#F03040"},"encoding":{"y":{"field":"v","type":"quantitative","title":null},"text":{"field":"t"}}}
]},
{"data":{"values":[{"v":100,"t":"100"}]},"mark":{"type":"text","fontSize":9.5,"align":"left","baseline":"middle","color":"#444444","dy":6},"encoding":{"x":{"datum":402.25,"type":"quantitative","axis":null},"y":{"field":"v","type":"quantitative","title":null},"text":{"field":"t"}}},
{"data":{"values":[{"v":0,"t":"0"}]},"mark":{"type":"text","fontSize":9.5,"align":"left","baseline":"middle","color":"#444444","dy":-7},"encoding":{"x":{"datum":402.25,"type":"quantitative","axis":null},"y":{"field":"v","type":"quantitative","title":null},"text":{"field":"t"}}}
]},
{"width":1608,"height":89,
"layer":[
{"encoding":{"x":{"field":"i","type":"quantitative","title":null,"scale":{"domain":[-0.375,401.625],"nice":false,"zero":false},
"axis":{"values":[0,16,32,48,64,80,96,112,128,144,160,176,192,208,224,240,256],"labelExpr":"['5 May 2019','23 May 2019','11 Jun 2019','30 Jun 2019','18 Jul 2019','6 Aug 2019','25 Aug 2019','12 Sep 2019','1 Oct 2019','20 Oct 2019','7 Nov 2019','26 Nov 2019','15 Dec 2019','2 Jan 2020','21 Jan 2020','9 Feb 2020','27 Feb 2020'][datum.value/16]","labelAlign":"left","labelPadding":2,"tickSize":3,"labelOverlap":false,"labelBound":false,"labelFlush":false}}},
"layer":[
{"data":{"name":"osc"},"mark":{"type":"rule","color":"#22A7CF","strokeWidth":1},
"encoding":{"y":{"field":"m","type":"quantitative","title":null,"scale":{"domain":[-0.007758,0.005653],"nice":false,"zero":false},
"axis":{"orient":"right","values":[0],"format":".2f","tickSize":2,"labelPadding":1}},"y2":{"datum":0}}},
{"data":{"name":"signal"},"mark":{"type":"line","color":"black","strokeWidth":1,"strokeDash":[2,3]},"encoding":{"y":{"field":"s","type":"quantitative","title":null}}},
{"data":{"values":[{"i":262.4,"v":-0.00322}]},"mark":{"type":"point","shape":"circle","size":2642,"stroke":"#E8202A","strokeWidth":1,"fill":null,"opacity":1},"encoding":{"y":{"field":"v","type":"quantitative","title":null}}},
{"data":{"values":[{"i":0.9,"v":0.00427,"t":"MACD(12,26,9) -0.007149 -0.002378"}]},"mark":{"type":"text","fontSize":9.5,"align":"left","baseline":"middle","color":"#444444"},"encoding":{"y":{"field":"v","type":"quantitative","title":null},"text":{"field":"t"}}},
{"data":{"values":[{"i":271.4,"v":-0.00105,"t":"MACD below both zero"},{"i":271.4,"v":-0.00392,"t":"and trigger lines"}]},"mark":{"type":"text","font":"Lato","fontSize":14.5,"align":"left","baseline":"middle","color":"#F03040"},"encoding":{"y":{"field":"v","type":"quantitative","title":null},"text":{"field":"t"}}}
]},
{"data":{"values":[{"v":0.005653,"t":"0.005653"}]},"mark":{"type":"text","fontSize":9.5,"align":"left","baseline":"middle","color":"#444444","dy":8},"encoding":{"x":{"datum":402.25,"type":"quantitative","title":null},"y":{"field":"v","type":"quantitative","title":null},"text":{"field":"t"}}},
{"data":{"values":[{"v":-0.007758,"t":"-0.007758"}]},"mark":{"type":"text","fontSize":9.5,"align":"left","baseline":"middle","color":"#444444","dy":-6},"encoding":{"x":{"datum":402.25,"type":"quantitative","title":null},"y":{"field":"v","type":"quantitative","title":null},"text":{"field":"t"}}}
]}
]
}
